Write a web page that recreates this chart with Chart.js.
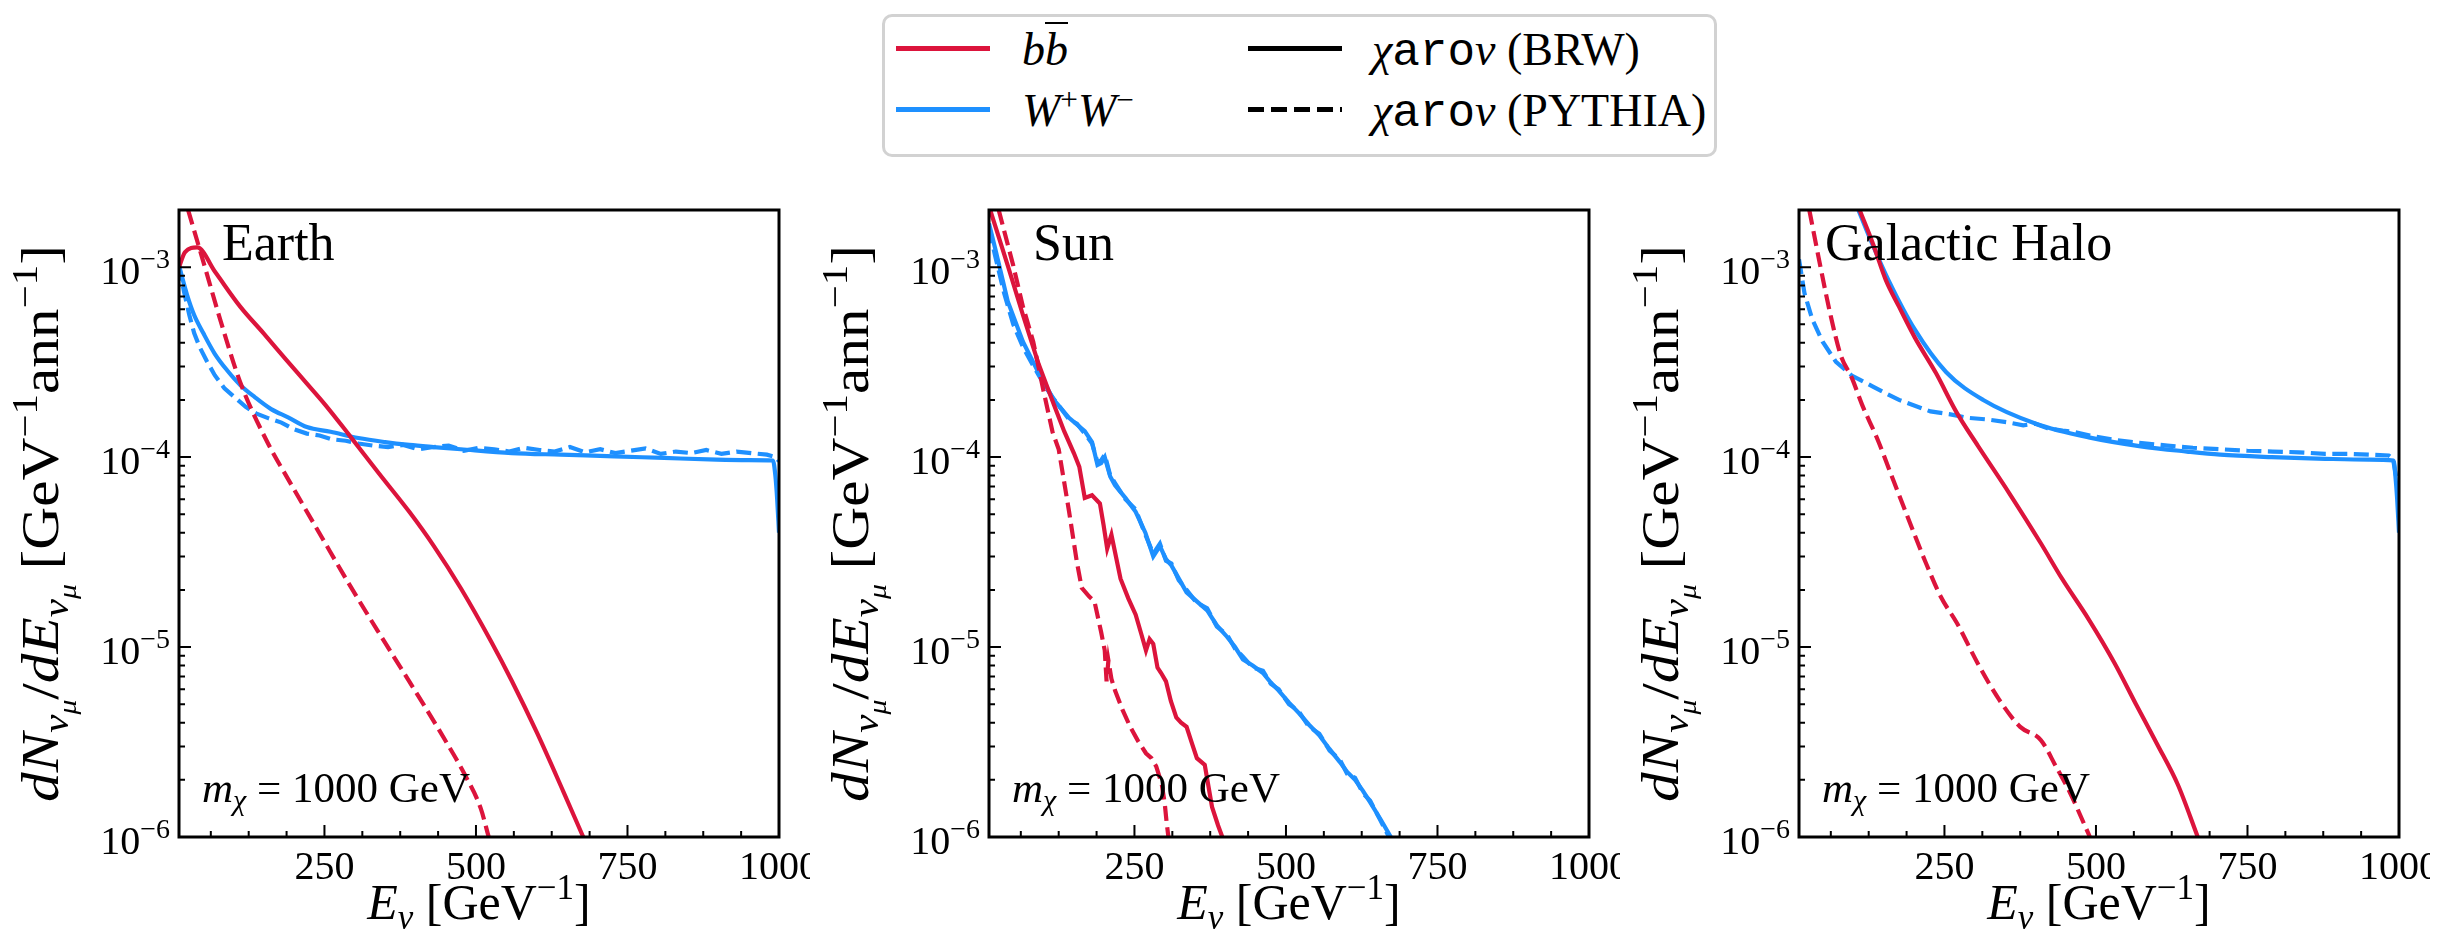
<!DOCTYPE html>
<html>
<head>
<meta charset="utf-8">
<title>Neutrino spectra</title>
<script src="https://cdn.jsdelivr.net/npm/chart.js@4.4.1/dist/chart.umd.min.js"></script>
<style>
  html, body { margin: 0; padding: 0; background: #fff; }
  #fig { position: relative; width: 2462px; height: 944px; overflow: hidden; font-family: "Liberation Serif", serif; color: #000; }
  #fig canvas { position: absolute; top: 190px; }
  .legbox { position: absolute; left: 882px; top: 14px; width: 835px; height: 143px; box-sizing: border-box;
            border: 3px solid #d2d2d2; border-radius: 10px; background: #fff; }
  .sample { position: absolute; height: 5px; width: 94px; }
  .legtxt { position: absolute; font-size: 46px; line-height: 1; white-space: nowrap; }
  .legtxt sup { font-size: 0.68em; position: relative; top: -0.5em; line-height: 0; vertical-align: baseline; }
  .tt { font-family: "Liberation Mono", monospace; }
  .bar { text-decoration: overline; text-decoration-thickness: 2px; }
</style>
</head>
<body>
<div id="fig">
  <div class="legbox"></div>
  <div class="sample" style="left:896px; top:45.5px; background:#dc143c"></div>
  <div class="sample" style="left:896px; top:106.5px; background:#1e90ff"></div>
  <div class="sample" style="left:1248px; top:45.5px; background:#000"></div>
  <div class="sample" style="left:1248px; top:106.5px; background:repeating-linear-gradient(to right, #000 0 16px, transparent 16px 23px)"></div>
  <div class="legtxt" style="left:1022px; top:27px"><i>b</i><i class="bar">b</i></div>
  <div class="legtxt" style="left:1022px; top:88px"><i>W</i><sup>+</sup><i>W</i><sup>−</sup></div>
  <div class="legtxt" style="left:1372px; top:27px"><i>χ</i><span class="tt">aro</span><i>ν</i> (BRW)</div>
  <div class="legtxt" style="left:1372px; top:88px"><i>χ</i><span class="tt">aro</span><i>ν</i> (PYTHIA)</div>
  <canvas id="earth" width="810" height="754" style="left:0px"></canvas>
  <canvas id="sun" width="810" height="754" style="left:810px"></canvas>
  <canvas id="halo" width="810" height="754" style="left:1620px"></canvas>
</div>
<script>
// axes
const xMin = 10, xMax = 1000;
const yMin = 1e-6, yMax = 2e-3;
const xMajorTicks = [250, 500, 750, 1000];
const xMinorTicks = [62.5, 125, 187.5, 312.5, 375, 437.5, 562.5, 625, 687.5, 812.5, 875, 937.5];
const yMajorTicks = [1e-6, 1e-5, 1e-4, 1e-3];

// Earth (E in GeV, dN/dE)
const earthBbBrwE = [10, 20, 40, 70, 111, 150, 187, 220, 251, 289, 340, 390, 430, 475, 525, 559, 601, 644, 677];
const earthBbBrwV = [1.0e-3, 1.2e-3, 1.27e-3, 9.4e-4, 6.2e-4, 4.47e-4, 3.25e-4, 2.46e-4, 1.89e-4, 1.33e-4, 8.2e-5, 5.15e-5, 3.42e-5, 2.04e-5, 1.07e-5, 6.65e-6, 3.52e-6, 1.74e-6, 1.0e-6];
const earthBbPyE = [25, 52, 78, 111, 154, 196, 247, 289, 339, 382, 415, 449, 483, 508, 521];
const earthBbPyV = [2.0e-3, 1.02e-3, 5.3e-4, 2.48e-4, 1.23e-4, 7.1e-5, 3.72e-5, 2.19e-5, 1.2e-5, 7.24e-6, 4.9e-6, 3.24e-6, 2.09e-6, 1.41e-6, 1.0e-6];
const earthWwBrwE = [10, 23, 35, 50, 69, 90, 111, 135, 162, 190, 221, 260, 306, 350, 390, 430, 475, 559, 640, 728, 810, 897, 950, 990, 994, 997, 1000];
const earthWwBrwV = [1.02e-3, 7.2e-4, 5.6e-4, 4.5e-4, 3.5e-4, 2.85e-4, 2.4e-4, 2.07e-4, 1.79e-4, 1.62e-4, 1.44e-4, 1.36e-4, 1.26e-4, 1.2e-4, 1.16e-4, 1.13e-4, 1.1e-4, 1.05e-4, 1.03e-4, 1.01e-4, 9.9e-5, 9.7e-5, 9.65e-5, 9.6e-5, 8.0e-5, 6.0e-5, 4.0e-5];
const earthWwPyE = [10, 18, 27, 35, 44, 56, 69, 85, 103, 120, 137, 158, 179, 200, 221, 242, 263, 285, 306, 330, 355, 380, 405, 430, 455, 480, 505, 530, 555, 580, 605, 630, 655, 680, 705, 730, 755, 780, 805, 830, 855, 880, 905, 930, 955, 980, 995, 1000];
const earthWwPyV = [1.02e-3, 7.5e-4, 5.6e-4, 4.5e-4, 3.8e-4, 3.2e-4, 2.7e-4, 2.3e-4, 2.05e-4, 1.84e-4, 1.7e-4, 1.6e-4, 1.52e-4, 1.4e-4, 1.33e-4, 1.3e-4, 1.24e-4, 1.22e-4, 1.18e-4, 1.15e-4, 1.13e-4, 1.16e-4, 1.1e-4, 1.13e-4, 1.15e-4, 1.08e-4, 1.12e-4, 1.1e-4, 1.07e-4, 1.12e-4, 1.09e-4, 1.07e-4, 1.13e-4, 1.06e-4, 1.1e-4, 1.05e-4, 1.08e-4, 1.11e-4, 1.04e-4, 1.07e-4, 1.05e-4, 1.09e-4, 1.04e-4, 1.07e-4, 1.05e-4, 1.03e-4, 1.0e-4, 9.5e-5];

// Sun
const sunBbBrwE = [12, 20, 41, 66, 92, 117, 134, 150, 159, 168, 180, 193, 199, 205, 212, 227, 240, 252, 262, 269, 275, 281, 288, 294, 302, 310, 319, 327, 336, 345, 353, 366, 378, 388, 395];
const sunBbBrwV = [2.0e-3, 1.66e-3, 1.02e-3, 5.6e-4, 3.08e-4, 1.89e-4, 1.37e-4, 1.05e-4, 8.9e-5, 6.1e-5, 6.3e-5, 5.7e-5, 4.4e-5, 3.3e-5, 3.9e-5, 2.29e-5, 1.8e-5, 1.48e-5, 1.15e-5, 9.6e-6, 1.1e-5, 1.04e-5, 7.8e-6, 7.3e-6, 6.6e-6, 5.2e-6, 4.26e-6, 4.0e-6, 3.8e-6, 3.1e-6, 2.6e-6, 2.4e-6, 1.44e-6, 1.15e-6, 1.0e-6];
const sunBbPyE = [26, 50, 66, 83, 100, 115, 125, 142, 155, 163, 175, 184, 195, 201, 204, 207, 212, 218, 230, 243, 256, 269, 278, 286, 295, 300, 303, 306];
const sunBbPyV = [2.0e-3, 1.02e-3, 6.2e-4, 4.05e-4, 2.23e-4, 1.35e-4, 1.1e-4, 5.2e-5, 2.8e-5, 2.05e-5, 1.85e-5, 1.74e-5, 1.2e-5, 9.6e-6, 6.6e-6, 8.5e-6, 6.8e-6, 5.9e-6, 4.7e-6, 3.8e-6, 3.2e-6, 2.76e-6, 2.6e-6, 2.35e-6, 1.9e-6, 1.5e-6, 1.2e-6, 1.0e-6];
const sunWwBrwE = [10, 20, 41, 66, 92, 117, 142, 168, 180, 189, 195, 201, 210, 218, 235, 252, 268, 281, 292, 302, 311, 323, 336, 352, 370, 386, 403, 416, 429, 445, 462, 475, 488, 505, 521, 538, 555, 572, 589, 601, 614, 627, 639, 656, 673];
const sunWwBrwV = [1.7e-3, 1.26e-3, 6.6e-4, 4.05e-4, 2.77e-4, 2.0e-4, 1.61e-4, 1.37e-4, 1.2e-4, 9.1e-5, 9.3e-5, 1.0e-4, 7.9e-5, 7.1e-5, 6.1e-5, 5.15e-5, 4.0e-5, 3.0e-5, 3.4e-5, 2.9e-5, 2.69e-5, 2.3e-5, 1.94e-5, 1.75e-5, 1.56e-5, 1.3e-5, 1.13e-5, 1.0e-5, 8.6e-6, 8.0e-6, 7.3e-6, 6.5e-6, 5.9e-6, 5.1e-6, 4.5e-6, 3.9e-6, 3.43e-6, 2.9e-6, 2.48e-6, 2.2e-6, 2.0e-6, 1.75e-6, 1.52e-6, 1.24e-6, 1.0e-6];
const sunWwPyE = [10, 20, 35, 50, 66, 80, 92, 105, 117, 130, 142, 155, 168, 180, 189, 195, 201, 210, 218, 235, 252, 268, 281, 292, 302, 311, 323, 336, 352, 370, 386, 403, 416, 429, 445, 462, 475, 488, 505, 521, 538, 555, 572, 589, 601, 614, 627, 639, 656, 670];
const sunWwPyV = [1.6e-3, 1.15e-3, 7.3e-4, 5.0e-4, 3.8e-4, 3.15e-4, 2.7e-4, 2.3e-4, 2.02e-4, 1.78e-4, 1.58e-4, 1.5e-4, 1.33e-4, 1.18e-4, 9.4e-5, 9.6e-5, 1.03e-4, 8.0e-5, 7.3e-5, 6.0e-5, 5.3e-5, 3.9e-5, 3.1e-5, 3.5e-5, 2.85e-5, 2.75e-5, 2.25e-5, 2.0e-5, 1.72e-5, 1.6e-5, 1.28e-5, 1.16e-5, 9.8e-6, 8.9e-6, 7.8e-6, 7.5e-6, 6.4e-6, 6.0e-6, 5.0e-6, 4.6e-6, 3.8e-6, 3.5e-6, 2.85e-6, 2.55e-6, 2.15e-6, 2.05e-6, 1.7e-6, 1.55e-6, 1.22e-6, 1.0e-6];

// Galactic Halo
const haloBbBrwE = [110, 132, 153, 175, 201, 236, 270, 305, 357, 409, 444, 488, 531, 566, 601, 635, 668];
const haloBbBrwV = [2.0e-3, 1.33e-3, 8.6e-4, 6.2e-4, 4.27e-4, 2.77e-4, 1.72e-4, 1.15e-4, 6.45e-5, 3.52e-5, 2.29e-5, 1.4e-5, 8.2e-6, 5.0e-6, 3.08e-6, 1.89e-6, 1.0e-6];
const haloBbPyE = [27, 45, 62, 79, 97, 114, 140, 166, 192, 218, 244, 271, 305, 340, 375, 409, 434, 458, 481, 490];
const haloBbPyV = [2.0e-3, 1.02e-3, 5.6e-4, 3.43e-4, 2.62e-4, 1.89e-4, 1.23e-4, 7.5e-5, 4.6e-5, 2.84e-5, 1.84e-5, 1.33e-5, 8.2e-6, 5.3e-6, 3.8e-6, 3.24e-6, 2.35e-6, 1.69e-6, 1.16e-6, 1.0e-6];
const haloWwBrwE = [108, 132, 158, 201, 253, 314, 401, 488, 574, 650, 705, 790, 878, 950, 991, 994, 997, 1000];
const haloWwBrwV = [2.0e-3, 1.3e-3, 8.5e-4, 4.7e-4, 2.8e-4, 2.0e-4, 1.5e-4, 1.27e-4, 1.14e-4, 1.07e-4, 1.03e-4, 1.0e-4, 9.8e-5, 9.7e-5, 9.6e-5, 8.0e-5, 6.0e-5, 4.0e-5];
const haloWwPyE = [10, 19, 32, 49, 71, 97, 132, 175, 227, 260, 288, 320, 357, 380, 400, 420, 445, 462, 490, 531, 570, 618, 660, 705, 750, 792, 835, 878, 920, 950, 983, 990, 995, 1000];
const haloWwPyV = [1.1e-3, 7.3e-4, 5.3e-4, 4.05e-4, 3.17e-4, 2.69e-4, 2.35e-4, 2.0e-4, 1.74e-4, 1.68e-4, 1.61e-4, 1.58e-4, 1.52e-4, 1.47e-4, 1.5e-4, 1.42e-4, 1.38e-4, 1.36e-4, 1.3e-4, 1.23e-4, 1.19e-4, 1.15e-4, 1.12e-4, 1.1e-4, 1.08e-4, 1.07e-4, 1.06e-4, 1.04e-4, 1.04e-4, 1.03e-4, 1.02e-4, 9.8e-5, 8.0e-5, 6.5e-5];

const red = '#dc143c';
const blue = '#1e90ff';

const serif = (px, italic) => (italic ? 'italic ' : '') + px + 'px "Liberation Serif"';

// draw a row of text pieces (different fonts / raised or lowered), sx stretches along the text
function drawRuns(ctx, runs, x, y, align, sx) {
  let total = 0;
  const ws = runs.map(r => { ctx.font = r.f; const w = ctx.measureText(r.t).width; total += w; return w; });
  ctx.save();
  ctx.translate(x, y);
  ctx.scale(sx || 1, 1);
  let cx = align === 'center' ? -total / 2 : (align === 'right' ? -total : 0);
  ctx.textAlign = 'left';
  ctx.textBaseline = 'alphabetic';
  runs.forEach((r, i) => { ctx.font = r.f; ctx.fillText(r.t, cx, r.dy || 0); cx += ws[i]; });
  ctx.restore();
}

const yMinorTicks = [];
[-6, -5, -4, -3].forEach(p => { for (let k = 2; k <= 9; k++) { const v = k * Math.pow(10, p); if (v <= yMax) yMinorTicks.push(v); } });

const axesDecor = {
  id: 'axesDecor',
  afterDraw(chart, args, o) {
    const { ctx, chartArea: a, scales: { x, y } } = chart;
    ctx.save();
    ctx.fillStyle = '#000';
    ctx.strokeStyle = '#000';

    // inward ticks
    ctx.lineWidth = 2;
    ctx.beginPath();
    xMajorTicks.forEach(v => { const p = x.getPixelForValue(v); ctx.moveTo(p, a.bottom); ctx.lineTo(p, a.bottom - 12); });
    xMinorTicks.forEach(v => { const p = x.getPixelForValue(v); ctx.moveTo(p, a.bottom); ctx.lineTo(p, a.bottom - 6); });
    yMajorTicks.forEach(v => { const p = y.getPixelForValue(v); ctx.moveTo(a.left, p); ctx.lineTo(a.left + 12, p); });
    yMinorTicks.forEach(v => { const p = y.getPixelForValue(v); ctx.moveTo(a.left, p); ctx.lineTo(a.left + 6, p); });
    ctx.stroke();

    ctx.lineWidth = 3;
    ctx.strokeRect(a.left, a.top, a.right - a.left, a.bottom - a.top);

    // tick labels
    ctx.font = serif(40);
    ctx.textAlign = 'center';
    ctx.textBaseline = 'alphabetic';
    xMajorTicks.forEach(v => ctx.fillText(String(v), x.getPixelForValue(v), a.bottom + 42));
    yMajorTicks.forEach(v => {
      const p = y.getPixelForValue(v);
      const ex = Math.round(Math.log10(v));
      drawRuns(ctx, [{ t: '10', f: serif(40) }, { t: '\u2212' + Math.abs(ex), f: serif(28), dy: -16 }], a.left - 9, p + 17, 'right');
    });

    // panel name and mass
    ctx.font = serif(52);
    ctx.textAlign = 'left';
    ctx.fillText(o.name, a.left + o.nameDx, a.top + 50);
    drawRuns(ctx, [
      { t: 'm', f: serif(43, true) },
      { t: 'χ', f: serif(30, true), dy: 8 },
      { t: ' = 1000 GeV', f: serif(43) }
    ], a.left + 23, a.bottom - 35, 'left');

    // x title
    drawRuns(ctx, [
      { t: 'E', f: serif(50, true) },
      { t: 'ν', f: serif(35, true), dy: 10 },
      { t: ' [GeV', f: serif(50) },
      { t: '\u22121', f: serif(35), dy: -20 },
      { t: ']', f: serif(50) }
    ], (a.left + a.right) / 2, a.bottom + 82, 'center');

    // y title
    ctx.translate(a.left - 121, (a.top + a.bottom) / 2);
    ctx.rotate(-Math.PI / 2);
    drawRuns(ctx, [
      { t: 'dN', f: serif(52, true) },
      { t: 'ν', f: serif(36, true), dy: 10 },
      { t: 'μ', f: serif(26, true), dy: 18 },
      { t: '/', f: serif(52) },
      { t: 'dE', f: serif(52, true) },
      { t: 'ν', f: serif(36, true), dy: 10 },
      { t: 'μ', f: serif(26, true), dy: 18 },
      { t: ' [GeV', f: serif(52) },
      { t: '\u22121', f: serif(36), dy: -21 },
      { t: 'ann', f: serif(52) },
      { t: '\u22121', f: serif(36), dy: -21 },
      { t: ']', f: serif(52) }
    ], 0, 0, 'center', 1.14);
    ctx.restore();
  }
};

function series(e, v, color, dashed, smooth) {
  return {
    data: e.map((x, i) => ({ x: x, y: v[i] })),
    borderColor: color,
    borderWidth: 4.2,
    borderDash: dashed ? [15, 6.5] : [],
    pointRadius: 0,
    fill: false,
    tension: 0,
    cubicInterpolationMode: smooth ? 'monotone' : 'default'
  };
}

function makePanel(id, name, nameDx, datasets) {
  new Chart(document.getElementById(id), {
    type: 'line',
    data: { datasets: datasets },
    options: {
      responsive: false,
      animation: false,
      devicePixelRatio: 1,
      layout: { padding: { left: 0, top: 20, right: 31, bottom: 0 } },
      plugins: { legend: { display: false }, tooltip: { enabled: false }, axesDecor: { name: name, nameDx: nameDx } },
      scales: {
        x: { type: 'linear', min: xMin, max: xMax, ticks: { display: false }, grid: { display: false }, border: { display: false },
             afterFit: s => { s.height = 107; } },
        y: { type: 'logarithmic', min: yMin, max: yMax, ticks: { display: false }, grid: { display: false }, border: { display: false },
             afterFit: s => { s.width = 179; } }
      }
    },
    plugins: [axesDecor]
  });
}

makePanel('earth', 'Earth', 43, [
  series(earthBbBrwE, earthBbBrwV, red, false, true),
  series(earthBbPyE, earthBbPyV, red, true, true),
  series(earthWwPyE, earthWwPyV, blue, true, false),
  series(earthWwBrwE, earthWwBrwV, blue, false, true)
]);
makePanel('sun', 'Sun', 44, [
  series(sunBbBrwE, sunBbBrwV, red, false, false),
  series(sunBbPyE, sunBbPyV, red, true, false),
  series(sunWwPyE, sunWwPyV, blue, true, false),
  series(sunWwBrwE, sunWwBrwV, blue, false, false)
]);
makePanel('halo', 'Galactic Halo', 26, [
  series(haloBbBrwE, haloBbBrwV, red, false, true),
  series(haloBbPyE, haloBbPyV, red, true, true),
  series(haloWwPyE, haloWwPyV, blue, true, false),
  series(haloWwBrwE, haloWwBrwV, blue, false, true)
]);
</script>
</body>
</html>
